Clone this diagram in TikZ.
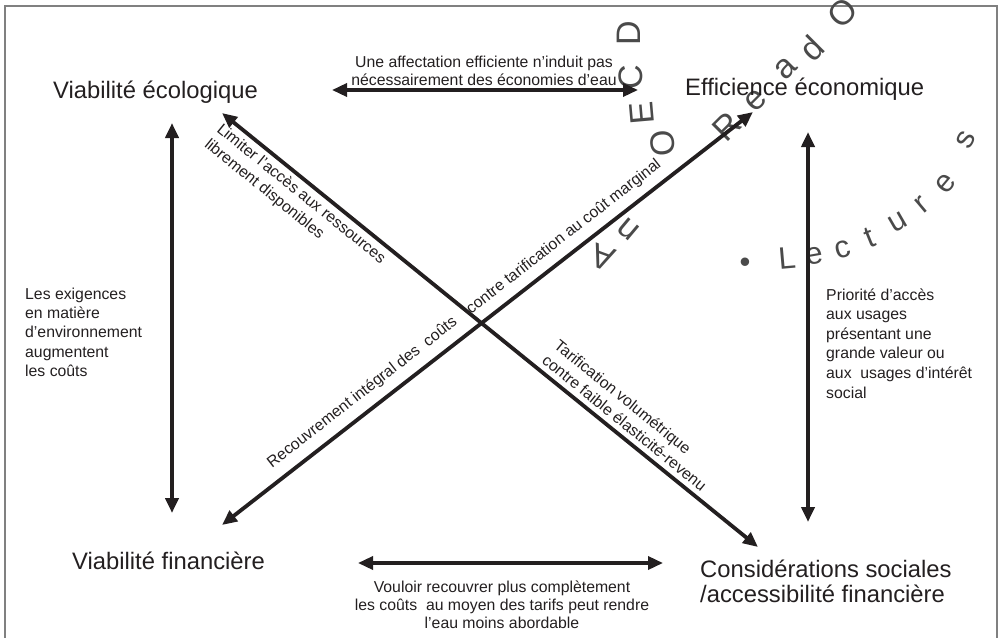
\documentclass[tikz,border=0pt]{standalone}
\usepackage{fontspec}
\setmainfont{Liberation Sans}
\usetikzlibrary{arrows.meta}
\definecolor{ink}{HTML}{231F20}
\definecolor{wmgray}{HTML}{4A4A4A}
\begin{document}
\begin{tikzpicture}[x=1pt,y=-1pt,
  big/.style={font=\fontsize{23.8}{25}\selectfont, text=ink, inner sep=0pt},
  small/.style={font=\fontsize{15.8}{19.5}\selectfont, text=ink, inner sep=0pt},
  conn/.style={line width=3.8pt, draw=ink,
    {Triangle[length=15pt,width=13pt]}-{Triangle[length=15pt,width=13pt]}},
  wm/.style={font=\fontsize{34}{34}\selectfont, text=wmgray, inner sep=0pt},
  wms/.style={font=\fontsize{31}{31}\selectfont, text=wmgray, inner sep=0pt}]
\useasboundingbox (0,0) rectangle (1000,637);
\draw[gray, line width=1.2pt] (5,645) -- (5,6) -- (997,6) -- (997,645);

% watermark
\foreach \c/\x/\y/\r [count=\i] in {
  A/603/258/160, n/628/229/140, O/663/143/95, E/642/113/95, C/631/77/90, D/629/33/90,
  R/727/127/45, e/756/100/45, a/786/68/45, d/812/48/45, O/843/13/45}
  \node[wm, rotate=\r] (w\i) at (\x,\y) {\c};
\foreach \c/\x/\y/\r [count=\i] in {
  •/745/265/0, L/787/258/5, e/815/256/10, c/843/250/15, t/870/238/22,
  u/898/222/30, r/922/205/40, e/946/184/50, s/966/140/62}
  \node[wms, rotate=\r] (v\i) at (\x,\y) {\c};

% main labels
\node[big, anchor=base west] (eco) at (53,98) {Viabilité écologique};
\node[big, anchor=base west] (eff) at (685,95) {Efficience économique};
\node[big, anchor=base west] (fin) at (72,569) {Viabilité financière};
\node[big, anchor=base west] (soc) at (700,577)
  {\begin{tabular}[t]{@{}l@{}}Considérations sociales\\/accessibilité financière\end{tabular}};

% arrow end points
\coordinate (tL) at (332,90);  \coordinate (tR) at (638,90);
\coordinate (lT) at (172,123); \coordinate (lB) at (172,513);
\coordinate (rT) at (808,132); \coordinate (rB) at (808,522);
\coordinate (bL) at (358,563); \coordinate (bR) at (663,563);
\coordinate (d1a) at (222,525); \coordinate (d1b) at (753,112);
\coordinate (d2a) at (222,113); \coordinate (d2b) at (758,547);

\draw[conn, line width=3.4pt] (tL) -- (tR);
\draw[conn] (lT) -- (lB);
\draw[conn] (rT) -- (rB);
\draw[conn, line width=3.4pt] (bL) -- (bR);
\draw[conn] (d1a) -- (d1b);
\draw[conn] (d2a) -- (d2b);

% connector labels
\node[small, anchor=base] (top) at (484,67)
  {\fontsize{15.8}{18}\selectfont\begin{tabular}[t]{@{}c@{}}Une affectation efficiente n’induit pas\\nécessairement des économies d’eau\end{tabular}};
\node[small, anchor=base] (bot) at (502,592)
  {\fontsize{15.8}{18}\selectfont\begin{tabular}[t]{@{}c@{}}Vouloir recouvrer plus complètement\\les coûts \ au moyen des tarifs peut rendre\\l’eau moins abordable\end{tabular}};
\node[small, anchor=base west] (left) at (25,299)
  {\fontsize{15.8}{19.4}\selectfont\begin{tabular}[t]{@{}l@{}}Les exigences\\en matière\\d’environnement\\augmentent\\les coûts\end{tabular}};
\node[small, anchor=base west] (right) at (826,300)
  {\fontsize{15.8}{19.6}\selectfont\begin{tabular}[t]{@{}l@{}}Priorité d’accès\\aux usages\\présentant une\\grande valeur ou\\aux \ usages d'intérêt\\social\end{tabular}};
\node[small, anchor=base west, rotate=-39] (lim) at (216,131)
  {\begin{tabular}[t]{@{}l@{}}Limiter l'accès aux ressources\\librement disponibles\end{tabular}};
\node[small, anchor=base west, rotate=-39] (tar) at (553,347.5)
  {\fontsize{15.8}{19}\selectfont\begin{tabular}[t]{@{}l@{}}Tarification volumétrique\\contre faible élasticité-revenu\end{tabular}};
\node[small, anchor=base west, rotate=37.9] (rec) at (272,468.5)
  {Recouvrement intégral des \ coûts};
\node[small, anchor=base west, rotate=37.9] (con) at (471,314.5)
  {contre tarification au coût marginal};
\end{tikzpicture}
\end{document}
